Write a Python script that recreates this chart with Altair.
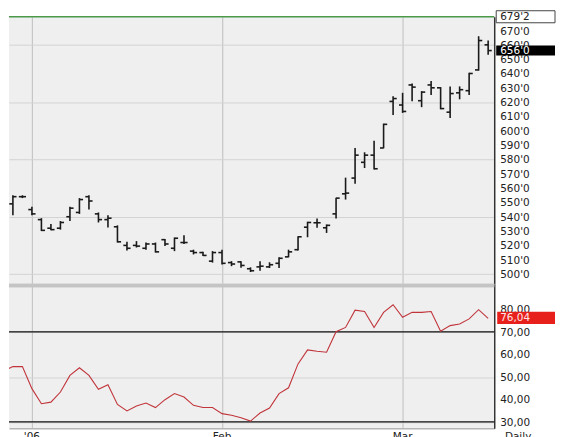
import altair as alt
import pandas as pd

# ---------------- data ----------------
bar_index = list(range(-2, 49))          # trading-day index, 0 = first session of '06
opens = [549, 554, 545, 538, 532, 532, 540, 543, 554, 542, 538, 533, 520, 520, 518, 521,
         524, 518, 522, 516, 515, 509, 515, 508, 508.5, 503.7, 505, 505, 507.5, 512, 517,
         532.7, 535.8, 532.3, 542, 556, 567, 578, 583, 588, 620.5, 618, 632, 621, 632, 630,
         613, 626.5, 628, 642.5, 660]
highs = [555, 555, 547, 539, 535, 537, 547, 553, 555, 543, 541, 534, 522.5, 523, 522, 522,
         524.5, 525.5, 527, 517, 515.6, 516, 517, 509, 509, 504.7, 509, 508.2, 511.7, 517,
         526.4, 536.5, 538.8, 534.6, 553.3, 567.3, 588, 585, 593, 605, 624.2, 626.5, 633,
         627.7, 634.7, 630.5, 631, 631, 640.5, 666, 663]
lows = [541, 553, 541, 530, 530.5, 531, 537, 542, 545, 536, 532.5, 522, 516.5, 518.5, 517,
        515, 519.5, 516, 521, 513.7, 512.6, 508, 506.7, 505.5, 504.4, 501.4, 502.3, 504.2,
        504.2, 511.7, 516.4, 525.7, 532.3, 528.7, 538.8, 552, 563, 574, 573, 587.8, 611,
        612.5, 620.7, 616.5, 625, 615, 609, 622, 625, 642, 653]
closes = [554, 554, 542, 530.5, 531, 536, 546, 552, 551, 538, 539, 522.5, 518, 519.5, 521,
          515.5, 521, 525, 522, 515, 513, 515, 507.5, 507, 506, 502.3, 505.5, 506.5, 511,
          515.5, 526, 536, 535.8, 534, 553, 556.5, 583, 583, 573.5, 604.5, 622.5, 613.5,
          630.5, 627, 630, 615.5, 626, 628.7, 640, 663, 656]

rsi_index = list(range(-3, 49))
rsi_values = [52.6, 54.6, 54.6, 44.8, 38.1, 38.8, 43.3, 50.7, 54.1, 50.7, 44.5, 46.5, 37.8,
              34.9, 37.1, 38.4, 36.4, 39.9, 42.6, 41.1, 37.4, 36.4, 36.4, 33.7, 33.0, 31.9,
              30.4, 34.0, 36.2, 42.6, 45.2, 55.8, 62.0, 61.4, 61.0, 70.1, 72.0, 79.7, 79.1,
              72.0, 78.7, 82.1, 76.5, 78.7, 78.7, 79.1, 70.3, 72.8, 73.5, 75.8, 79.9, 76.04]

month_ticks = [0, 20, 39]
month_labels = ["'06", "Feb", "Mar"]
price_ticks = list(range(500, 680, 10))
price_labels = [f"{v}'0" for v in price_ticks]
rsi_ticks = [30, 40, 50, 60, 70, 80]
rsi_labels = [f"{v},00" for v in rsi_ticks]
rsi_levels = [30, 70]
last_price = 656
last_price_label = "656'0"
top_price = 679.6
top_price_label = "679'2"
last_rsi = 76.04
last_rsi_label = "76,04"
period_label = "Daily"

# ---------------- layout ----------------
W = 487
H1 = 268
H2 = 145
BOXW = 61
XDOM = [-2.411, 48.64]
PDOM = [493.2, 679.6]
RDOM = [27.2, 91.4]
TICK = 0.38
FONT = "DejaVu Sans"
FS = 10.5
TXT = "#222222"

bars = pd.DataFrame({"i": bar_index, "open": opens, "high": highs,
                     "low": lows, "close": closes})
bars["xo"] = bars["i"] - TICK
bars["xc"] = bars["i"] + TICK
rsi = pd.DataFrame({"i": rsi_index, "rsi": rsi_values})

xs = alt.Scale(domain=XDOM, nice=False, zero=False)
ps = alt.Scale(domain=PDOM, nice=False, zero=False)
rs = alt.Scale(domain=RDOM, nice=False, zero=False)

x_price_axis = alt.Axis(values=month_ticks, labels=False, ticks=False, domain=False,
                        title=None, grid=True, gridColor="#c6c6c6", gridWidth=1.2)
y_price_axis = alt.Axis(orient="right", values=price_ticks, title=None, grid=True,
                        gridColor="#d3d3d3", ticks=False, labels=False,
                        domainColor="#333333", domainWidth=1.5)

pbase = alt.Chart(bars)
vert = pbase.mark_rule(color="#1a1a1a", strokeWidth=1.6).encode(
    x=alt.X("i:Q", scale=xs, axis=x_price_axis),
    y=alt.Y("low:Q", scale=ps, axis=y_price_axis),
    y2="high:Q")
otick = pbase.mark_rule(color="#1a1a1a", strokeWidth=1.6).encode(
    x="xo:Q", x2="i:Q", y="open:Q")
ctick = pbase.mark_rule(color="#1a1a1a", strokeWidth=1.6).encode(
    x="i:Q", x2="xc:Q", y="close:Q")

plab_df = pd.DataFrame({"p": price_ticks, "t": price_labels})
plabels = alt.Chart(plab_df).mark_text(align="left", baseline="middle", dy=1, font=FONT,
                                       fontSize=FS, color=TXT).encode(
    y="p:Q", x=alt.value(W + 6), text="t:N")

top_df = pd.DataFrame({"p": [top_price], "hi": [top_price + 4.2], "lo": [top_price - 4.2],
                       "t": [top_price_label]})
green = alt.Chart(top_df).mark_rule(color="#4a9a4a", strokeWidth=1.5).encode(
    y="p:Q", x=alt.value(0), x2=alt.value(W))
top_box = alt.Chart(top_df).mark_rect(fill="white", stroke="#444444", strokeWidth=1).encode(
    y="hi:Q", y2="lo:Q", x=alt.value(W + 2), x2=alt.value(W + BOXW))
top_txt = alt.Chart(top_df).mark_text(align="left", baseline="middle", font=FONT,
                                      fontSize=FS, color=TXT).encode(
    y="p:Q", x=alt.value(W + 6), text="t:N")

last_df = pd.DataFrame({"p": [last_price], "hi": [last_price + 3.5], "lo": [last_price - 3.5],
                        "t": [last_price_label]})
last_box = alt.Chart(last_df).mark_rect(fill="#000000").encode(
    y="hi:Q", y2="lo:Q", x=alt.value(W + 2), x2=alt.value(W + BOXW))
last_txt = alt.Chart(last_df).mark_text(align="left", baseline="middle", font=FONT,
                                        fontSize=FS, color="white").encode(
    y="p:Q", x=alt.value(W + 6), text="t:N")

price = alt.layer(vert, otick, ctick, plabels, green, top_box, top_txt, last_box,
                  last_txt).properties(width=W, height=H1)

# ---------------- RSI panel ----------------
x_rsi_axis = alt.Axis(values=month_ticks, labels=False, title=None, grid=True,
                      gridColor="#c6c6c6", gridWidth=1.2, ticks=False,
                      domainColor="#b5b5b5", domainWidth=1.5)
y_rsi_axis = alt.Axis(orient="right", values=rsi_ticks, title=None, grid=True,
                      gridColor="#d3d3d3", ticks=False, labels=False,
                      domainColor="#333333", domainWidth=1.5)

rline = alt.Chart(rsi).mark_line(color="#c0343a", strokeWidth=1.1, clip=True).encode(
    x=alt.X("i:Q", scale=xs, axis=x_rsi_axis),
    y=alt.Y("rsi:Q", scale=rs, axis=y_rsi_axis))

lev_df = pd.DataFrame({"r": rsi_levels})
levels = alt.Chart(lev_df).mark_rule(color="#111111", strokeWidth=1.2).encode(
    y="r:Q", x=alt.value(0), x2=alt.value(W))

band = alt.Chart(lev_df).mark_rect(color="#c4c4c4").encode(
    y=alt.value(0), y2=alt.value(3.5), x=alt.value(0), x2=alt.value(W))

rlab_df = pd.DataFrame({"r": rsi_ticks, "t": rsi_labels})
rlabels = alt.Chart(rlab_df).mark_text(align="left", baseline="middle", dy=1, font=FONT,
                                       fontSize=FS, color=TXT).encode(
    y="r:Q", x=alt.value(W + 6), text="t:N")

mlab_df = pd.DataFrame({"i": month_ticks, "t": month_labels})
mlabels = alt.Chart(mlab_df).mark_text(align="center", baseline="top", font=FONT,
                                       fontSize=FS, color=TXT).encode(
    x="i:Q", y=alt.value(H2 + 4), text="t:N")

rl_df = pd.DataFrame({"r": [last_rsi], "hi": [last_rsi + 2.9], "lo": [last_rsi - 2.5],
                      "t": [last_rsi_label]})
rbox = alt.Chart(rl_df).mark_rect(fill="#e8201c").encode(
    y="hi:Q", y2="lo:Q", x=alt.value(W + 3), x2=alt.value(W + BOXW))
rtxt = alt.Chart(rl_df).mark_text(align="left", baseline="middle", font=FONT,
                                  fontSize=FS, color="#ffe6e6").encode(
    y="r:Q", x=alt.value(W + 6), text="t:N")

pl_df = pd.DataFrame({"t": [period_label]})
daily = alt.Chart(pl_df).mark_text(align="center", baseline="top", font=FONT,
                                   fontSize=FS, color=TXT).encode(
    x=alt.value(W + 24), y=alt.value(H2 + 4), text="t:N")

rsi_chart = alt.layer(band, levels, rline, rlabels, mlabels, rbox, rtxt, daily).properties(
    width=W, height=H2)

chart = alt.vconcat(price, rsi_chart, spacing=0).properties(
    padding={"left": 0, "top": 1, "right": 0, "bottom": 0},
    background="white",
).configure_view(fill="#efefef", stroke=None)

chart.save("out.html", embed_options={"renderer": "svg", "actions": False})
